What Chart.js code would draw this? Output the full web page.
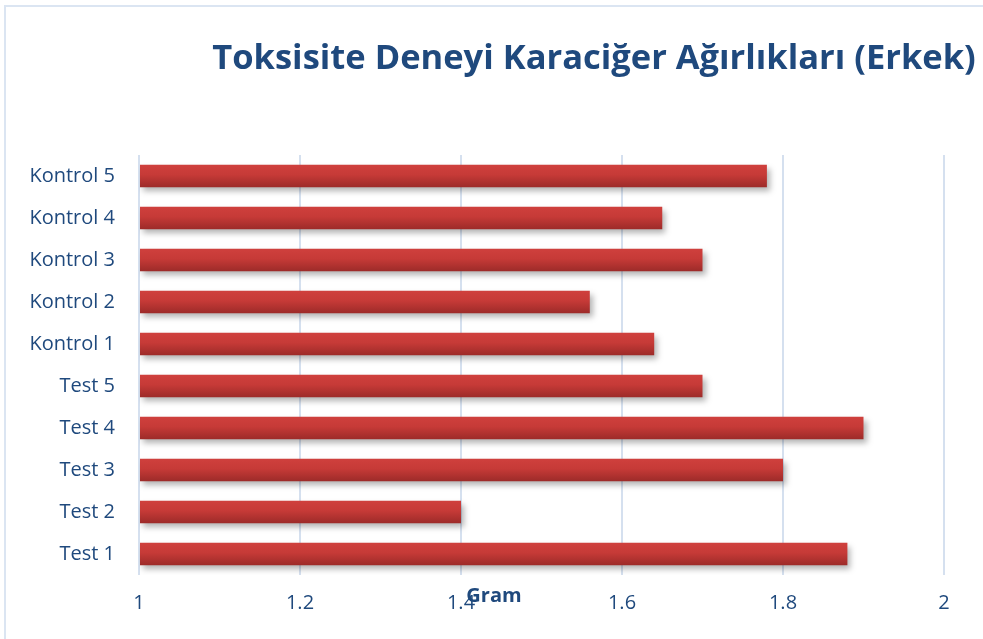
<!DOCTYPE html>
<html>
<head>
<meta charset="utf-8">
<script src="https://cdn.jsdelivr.net/npm/chart.js@4.4.0/dist/chart.umd.min.js"></script>
<style>
  html, body { margin: 0; padding: 0; background: #fff; overflow: hidden; }
  #frame { position: absolute; left: 4px; top: 5px; width: 1000px; height: 660px;
           border-left: 2px solid #dbe5f2; border-top: 2px solid #dbe5f2; }
  #wrap { position: absolute; left: 0; top: 0; width: 983px; height: 639px; }
</style>
</head>
<body>
<div id="frame"></div>
<div id="wrap"><canvas id="myChart" width="983" height="639"></canvas></div>
<script>
// chart data, top row first
var labels = ["Kontrol 5", "Kontrol 4", "Kontrol 3", "Kontrol 2", "Kontrol 1",
              "Test 5", "Test 4", "Test 3", "Test 2", "Test 1"];
var weights = [1.78, 1.65, 1.70, 1.56, 1.64, 1.70, 1.90, 1.80, 1.40, 1.88];
var xTicks = [1, 1.2, 1.4, 1.6, 1.8, 2];
var titleText = "Toksisite Deneyi Karaciğer Ağırlıkları (Erkek)";
var axisText = "Gram";

var blue = "#1f497d";
var barPct = 0.53;

// each bar gets its own vertical gradient
function barFill(c) {
  var chart = c.chart;
  var y = chart.scales && chart.scales.y;
  if (!y || !chart.chartArea) return "#c23835";
  var step = (y.bottom - y.top) / labels.length;
  var mid = y.getPixelForValue(c.dataIndex);
  var top = mid - step * barPct / 2;
  var g = chart.ctx.createLinearGradient(0, top, 0, top + step * barPct);
  g.addColorStop(0, "#cf403d");
  g.addColorStop(0.45, "#c63a37");
  g.addColorStop(1, "#9d2b29");
  return g;
}

// soft shadow under the bars
var barShadow = {
  id: "barShadow",
  beforeDatasetDraw: function(chart) {
    var ctx = chart.ctx;
    ctx.save();
    ctx.shadowColor = "rgba(0,0,0,0.3)";
    ctx.shadowBlur = 6;
    ctx.shadowOffsetX = 3;
    ctx.shadowOffsetY = 4;
  },
  afterDatasetDraw: function(chart) {
    chart.ctx.restore();
  }
};

// title and the axis name drawn as text
var texts = {
  id: "texts",
  afterDraw: function(chart) {
    var ctx = chart.ctx;
    ctx.save();
    ctx.fillStyle = blue;
    ctx.textAlign = "center";
    ctx.textBaseline = "middle";
    ctx.font = "bold 34.5px 'Open Sans'";
    ctx.fillText(titleText, 594, 59);
    ctx.font = "bold 20px 'Open Sans'";
    ctx.fillText(axisText, 494, 596);
    ctx.restore();
  }
};

var ctx = document.getElementById("myChart").getContext("2d");
var chart = new Chart(ctx, {
  type: "bar",
  data: {
    labels: labels,
    datasets: [{
      data: weights,
      backgroundColor: barFill,
      borderWidth: 0,
      barPercentage: barPct,
      categoryPercentage: 1.0
    }]
  },
  options: {
    indexAxis: "y",
    responsive: false,
    animation: false,
    base: 1,
    layout: { padding: { top: 155, right: 39, left: 0, bottom: 0 } },
    plugins: {
      legend: { display: false },
      tooltip: { enabled: false },
      title: { display: false }
    },
    scales: {
      x: {
        min: 1,
        max: 2,
        afterBuildTicks: function(scale) {
          scale.ticks = xTicks.map(function(v) { return { value: v }; });
        },
        afterFit: function(scale) { scale.height = 64; },
        grid: { color: "#d5e0ef", lineWidth: 2, drawTicks: false },
        border: { display: false },
        ticks: {
          color: blue,
          padding: 16,
          font: { family: "'Open Sans'", size: 20 },
          callback: function(v) { return String(Math.round(v * 10) / 10); }
        }
      },
      y: {
        afterFit: function(scale) { scale.width = 139; },
        grid: { display: false },
        border: { display: false },
        ticks: {
          color: blue,
          padding: 16,
          font: { family: "'Open Sans'", size: 20 }
        }
      }
    }
  },
  plugins: [barShadow, texts]
});
</script>
</body>
</html>
